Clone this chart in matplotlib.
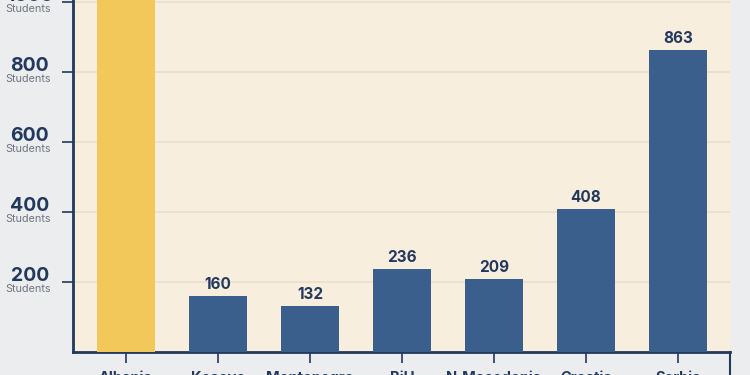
import matplotlib
matplotlib.use("Agg")
import matplotlib.pyplot as plt
from matplotlib.transforms import blended_transform_factory

countries = ["Albania", "Kosovo", "Montenegro", "BiH", "N.Macedonia", "Croatia", "Serbia"]
students = [1200, 160, 132, 236, 209, 408, 863]
highlight = "Albania"
yticks = [200, 400, 600, 800, 1000]
tick_unit = "Students"

NAVY = "#22385C"
BAR = "#3B5F8D"
YELLOW = "#F2C85A"
CREAM = "#F8EEDD"
GRAY_BG = "#ECEDEF"
GRID = "#E9DFCB"

plt.rcParams['font.family'] = ['Inter', 'DejaVu Sans']

fig = plt.figure(figsize=(7.5, 3.75), dpi=100, facecolor=GRAY_BG)
ax = fig.add_axes([73/750, 23/375, 657/750, 367.5/375])
ax.set_facecolor(CREAM)

x = list(range(len(countries)))
colors = [YELLOW if c == highlight else BAR for c in countries]
ax.bar(x, students, width=0.62, color=colors, zorder=3)

ymax = 1050
ax.set_ylim(0, ymax)
ax.set_xlim(-0.576, -0.576 + 657/92)

for xi, v in zip(x, students):
    if v < ymax - 30:
        ax.text(xi, v + 12, f"{v}", ha="center", va="bottom", fontsize=11,
                fontweight="bold", color=NAVY, zorder=4)

ax.set_yticks(yticks)
ax.set_yticklabels([])
ax.yaxis.grid(True, color=GRID, linewidth=1.2, zorder=0)
ax.tick_params(axis="y", length=8, width=1.2, color=NAVY, direction="out")
trans = blended_transform_factory(ax.transAxes, ax.transData)
for t in yticks:
    ax.text(-0.066, t - 8, f"{t}", transform=trans, ha="center", va="bottom",
            fontsize=14, fontweight="bold", color=NAVY)
    ax.text(-0.069, t - 7, tick_unit, transform=trans, ha="center", va="top",
            fontsize=7.8, color="#6F7580")

ax.set_xticks(x)
ax.set_xticklabels(countries, fontsize=10.5, fontweight="bold", color=NAVY)
ax.tick_params(axis="x", length=8, width=1.2, color=NAVY, pad=6)

for s in ["top", "right"]:
    ax.spines[s].set_visible(False)
for s in ["left", "bottom"]:
    ax.spines[s].set_color(NAVY)
    ax.spines[s].set_linewidth(2)
ax.plot([1, 1], [0, -0.12], transform=ax.transAxes, color=NAVY, lw=1.5, clip_on=False)

fig.savefig("out.png", dpi=100, facecolor=GRAY_BG)
